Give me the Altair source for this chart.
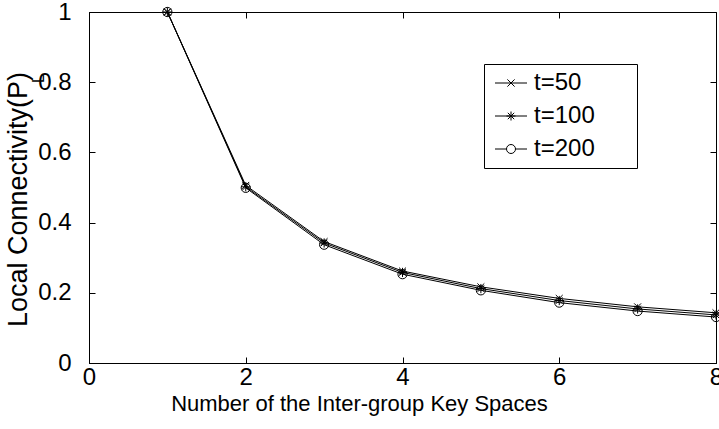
import altair as alt
import pandas as pd

# ---------------- data ----------------
x_vals = [1, 2, 3, 4, 5, 6, 7, 8]
p_t50 = [1.0, 0.506, 0.346, 0.262, 0.217, 0.184, 0.160, 0.143]
p_t100 = [1.0, 0.502, 0.342, 0.258, 0.212, 0.178, 0.154, 0.137]
p_t200 = [1.0, 0.499, 0.337, 0.253, 0.207, 0.172, 0.148, 0.131]
series_names = ["t=50", "t=100", "t=200"]
x_ticks = [0, 2, 4, 6, 8]
y_ticks = [0, 0.2, 0.4, 0.6, 0.8, 1]
x_title = "Number of the Inter-group Key Spaces"
y_title_parts = ["Local Connectivity(P", "L", ")"]

rows = []
for name, vals in zip(series_names, [p_t50, p_t100, p_t200]):
    for xv, yv in zip(x_vals, vals):
        rows.append({"x": xv, "p": yv, "series": name})
df = pd.DataFrame(rows)

# ---------------- styles ----------------
FONT = "Liberation Sans"
X_MARK = "M-0.75,-0.75L0.75,0.75M-0.75,0.75L0.75,-0.75"
STAR_MARK = "M-1,0L1,0M0,-1L0,1M-0.7,-0.7L0.7,0.7M-0.7,0.7L0.7,-0.7"
CIRC_MARK = "M1,0A1,1,0,1,1,-1,0A1,1,0,1,1,1,0Z"
marker_paths = [X_MARK, STAR_MARK, CIRC_MARK]

# legend symbols: line segment + marker; trailing move-to widens the legend frame
LX = "M-0.72,-0.72L0.72,0.72M-0.72,0.72L0.72,-0.72"
LSTAR = "M-0.9,0L0.9,0M0,-0.9L0,0.9M-0.64,-0.64L0.64,0.64M-0.64,0.64L0.64,-0.64"
LCIRC = "M0.9,0A0.9,0.9,0,1,1,-0.9,0A0.9,0.9,0,1,1,0.9,0Z"
WIDEN = "M23.3,0"
legend_paths = [
    "M-3.2,0L3.2,0" + LX + WIDEN,
    "M-3.2,0L3.2,0" + LSTAR + WIDEN,
    "M-3.2,0L-0.9,0M0.9,0L3.2,0" + LCIRC + WIDEN,
]

x_scale = alt.Scale(domain=[0, 8], nice=False, zero=False)
y_scale = alt.Scale(domain=[0, 1], nice=False)
TICK_IN = {"expr": "-6"}

x_axis = alt.Axis(
    values=x_ticks, format="d", tickSize=TICK_IN, tickColor="black",
    labelFont=FONT, labelFontSize=24, labelColor="black", labelPadding=8,
    labelFlush=False, labelOverlap=False, grid=False, domainColor="black",
    title=x_title, titleFont=FONT, titleFontSize=22, titleFontWeight="normal",
    titleColor="black", titleX=270, titleY=47, titleAlign="center",
    titleBaseline="alphabetic",
)
y_axis = alt.Axis(
    values=y_ticks, format="~g", tickSize=TICK_IN, tickColor="black",
    labelFont=FONT, labelFontSize=24, labelColor="black", labelPadding=24,
    labelFlush=False, labelOverlap=False, grid=False, domainColor="black",
    title=None,
)
top_axis = alt.Axis(orient="top", values=x_ticks, labels=False, title=None,
                    tickSize=TICK_IN, tickColor="black", domain=False, grid=False)
right_axis = alt.Axis(orient="right", values=y_ticks, labels=False, title=None,
                      tickSize=TICK_IN, tickColor="black", domain=False, grid=False)

lines = alt.Chart(df).mark_line(color="black", strokeWidth=1).encode(
    x=alt.X("x:Q", scale=x_scale, axis=x_axis),
    y=alt.Y("p:Q", scale=y_scale, axis=y_axis),
    detail="series:N",
)

points = alt.Chart(df).mark_point(
    filled=False, color="black", strokeWidth=1, size=85, opacity=1
).encode(
    x=alt.X("x:Q", scale=x_scale, axis=None),
    y=alt.Y("p:Q", scale=y_scale, axis=None),
    shape=alt.Shape("series:N", scale=alt.Scale(domain=series_names, range=marker_paths),
                    legend=None),
)

legend_layer = alt.Chart(df).transform_filter("false").mark_point(
    filled=False, color="black", strokeWidth=1, size=100, opacity=1
).encode(
    x=alt.X("x:Q", scale=x_scale, axis=top_axis),
    y=alt.Y("p:Q", scale=y_scale, axis=right_axis),
    shape=alt.Shape(
        "series:N",
        scale=alt.Scale(domain=series_names, range=legend_paths),
        legend=alt.Legend(
            title=None, orient="none", legendX=395, legendY=52, padding=7,
            strokeColor="black", fillColor="white", cornerRadius=0,
            symbolOffset=8, labelOffset=11, rowPadding=9,
            labelFont=FONT, labelFontSize=24, labelColor="black",
            symbolSize=100, symbolStrokeWidth=1, symbolStrokeColor="black",
            symbolFillColor="transparent",
        ),
    ),
)

title_main = alt.Chart(pd.DataFrame({"t": [y_title_parts[0]]})).mark_text(
    angle=270, align="left", baseline="alphabetic", font=FONT, fontSize=27, color="black"
).encode(x=alt.value(-62), y=alt.value(315), text="t:N")
title_sub = alt.Chart(pd.DataFrame({"s": [y_title_parts[1]]})).mark_text(
    angle=270, align="left", baseline="alphabetic", font=FONT, fontSize=16, color="black"
).encode(x=alt.value(-45), y=alt.value(71), text="s:N")
title_end = alt.Chart(pd.DataFrame({"e": [y_title_parts[2]]})).mark_text(
    angle=270, align="left", baseline="alphabetic", font=FONT, fontSize=27, color="black"
).encode(x=alt.value(-62), y=alt.value(69), text="e:N")

chart = alt.layer(
    lines, points, legend_layer, title_main, title_sub, title_end
).resolve_scale(shape="independent").resolve_axis(
    x="independent", y="independent"
).properties(
    width=627, height=351,
    autosize=alt.AutoSizeParams(type="none"),
    padding={"left": 89, "top": 12, "right": 3, "bottom": 66},
    background="white",
).configure_view(stroke="black", strokeWidth=1)

chart.save("out.html", embed_options={"renderer": "svg", "actions": False})
